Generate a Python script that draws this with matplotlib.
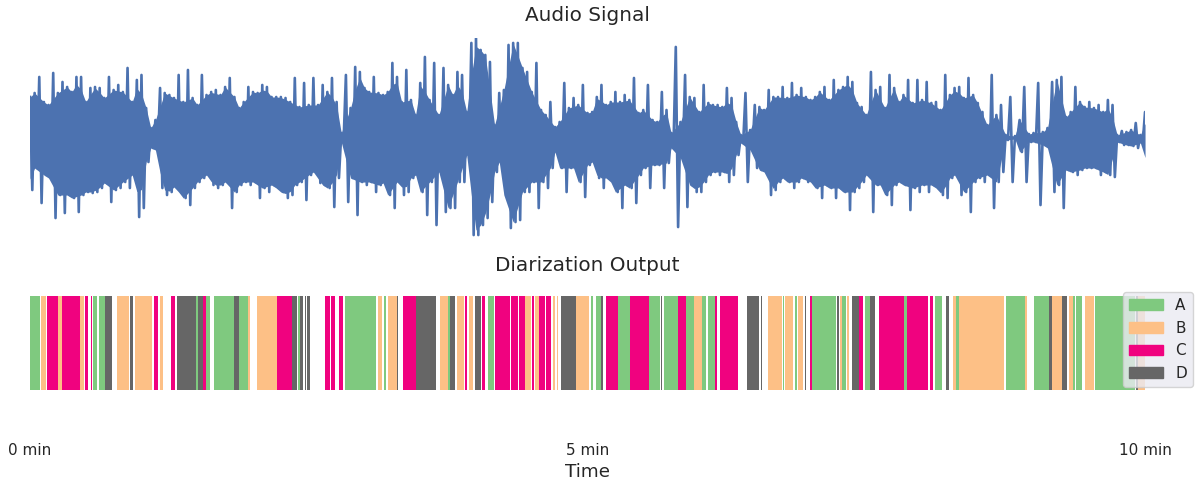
import numpy as np
import matplotlib.pyplot as plt
from matplotlib.patches import Patch

# audio envelope, one column every 2.5 s (upper / lower peak, arbitrary units)
wave_step = 2.5
wave_hi = [41, 45, 61, 36, 33, 65, 45, 56, 51, 46,
           61, 61, 36, 50, 51, 50, 40, 61, 48, 53,
           46, 70, 36, 58, 63, 30, 10, 18, 50, 45,
           43, 40, 63, 36, 68, 40, 33, 63, 43, 46,
           48, 43, 51, 60, 41, 30, 36, 51, 46, 45,
           53, 51, 41, 41, 41, 40, 36, 60, 31, 55,
           33, 60, 33, 53, 46, 60, 36, 5, 63, 30, 71,
           66, 50, 46, 61, 45, 43, 46, 75, 61, 36,
           68, 38, 23, 55, 81, 38, 75, 23, 70, 53,
           43, 66, 63, 26, 95, 100, 88, 83, 76, 13,
           45, 48, 93, 95, 95, 70, 66, 46, 75, 28,
           23, 36, 11, 16, 55, 30, 40, 33, 53, 25,
           26, 41, 53, 33, 36, 46, 36, 43, 38, 60, 25, 28,
           53, 18, 16, 46, 28, 5, 91, 16, 63, 41,
           40, 26, 53, 35, 33, 33, 31, 50, 40, 16,
           3, 45, 8, 33, 31, 28, 48, 41, 41, 51,
           40, 55, 43, 50, 41, 38, 41, 46, 51, 38,
           58, 48, 51, 61, 56, 35, 31, 23, 66, 48,
           51, 30, 63, 50, 36, 43, 58, 35, 58, 38, 56, 35, 36,
           28, 63, 43, 50, 51, 40, 60, 43, 35, 26,
           13, 63, 23, 33, 3, 41, 2, 18, 51, 4,
           5, 55, 6, 10, 56, 58, 61, 21, 26, 51,
           36, 31, 36, 30, 33, 26, 38, 33, 3, 7,
           6, 8, 15, 3, 26]
wave_lo = [-52, -30, -65, -37, -40, -80, -57, -75, -57, -60,
           -74, -57, -54, -55, -54, -50, -45, -64, -52, -50,
           -44, -50, -37, -79, -70, -24, -10, -12, -50, -57,
           -54, -49, -54, -60, -67, -50, -44, -40, -37, -47,
           -50, -47, -44, -70, -54, -47, -44, -47, -44, -60,
           -50, -54, -47, -50, -54, -60, -57, -47, -44, -62,
           -37, -34, -45, -47, -50, -69, -40, -4, -64, -40, -77,
           -44, -47, -44, -54, -47, -45, -57, -70, -44, -57,
           -54, -40, -37, -54, -77, -44, -87, -34, -74, -70,
           -70, -44, -44, -17, -97, -97, -87, -80, -64, -34,
           -24, -57, -90, -84, -82, -54, -54, -44, -70, -44,
           -50, -30, -14, -30, -54, -30, -30, -44, -59, -27,
           -24, -40, -50, -40, -44, -54, -70, -47, -50, -65, -37, -30,
           -50, -27, -27, -50, -25, -10, -89, -20, -69, -47,
           -54, -54, -44, -37, -34, -37, -34, -44, -37, -17,
           -5, -44, -12, -30, -32, -34, -57, -52, -44, -40,
           -44, -50, -44, -40, -44, -44, -50, -60, -47, -50,
           -60, -50, -54, -72, -54, -50, -44, -37, -74, -47,
           -47, -57, -67, -47, -44, -47, -72, -50, -54, -47, -54, -47, -50,
           -57, -60, -40, -37, -57, -54, -74, -44, -40, -44,
           -37, -70, -44, -34, -2, -44, -1, -14, -44, -4,
           -4, -67, -7, -10, -54, -47, -70, -32, -34, -37,
           -32, -30, -30, -30, -37, -34, -37, -39, -4, -7,
           -7, -8, -10, -5, -34]

# diarization segments (seconds)
seg_start = [0, 5.9, 9.1, 15.1, 17.2, 26.9, 29.6, 32.8, 33.9, 37.1, 40.4, 46.8, 53.8, 56.5, 66.7,
             69.9, 75.9, 79.1, 89.3, 90.4, 93.1, 94.7, 99.0, 109.8, 112.4, 117.3, 122.1, 132.9,
             141.0, 144.2, 145.3, 148.0, 149.0, 158.7, 161.9, 166.2, 169.5, 187.2, 190.5, 192.6,
             197.4, 200.7, 207.7, 220.6, 224.9, 226.0, 229.7, 234.0, 236.2, 239.4, 243.2, 246.4,
             250.2, 258.8, 263.1, 266.3, 270.1, 271.7, 273.8, 277.6, 281.4, 283.5, 285.7, 293.7,
             301.8, 304.5, 307.2, 309.9, 316.3, 322.8, 333.0, 339.5, 341.1, 348.6, 352.9, 357.2,
             361.5, 364.8, 368.5, 371.2, 385.7, 393.3, 397.0, 405.1, 406.2, 411.6, 413.2, 417.0,
             419.6, 420.7, 434.2, 435.8, 436.9, 439.5, 442.2, 446.0, 449.2, 451.9, 456.8, 470.2,
             471.8, 484.2, 486.9, 492.8, 496.6, 498.2, 499.8, 525.1, 535.3, 540.2, 548.2, 549.8,
             555.2, 559.0, 561.1, 562.7, 567.6, 573.0, 595.0, 596.1]
seg_end = [5.4, 8.6, 15.1, 17.2, 26.9, 29.1, 31.2, 33.4, 36.0, 40.4, 44.1, 53.3, 55.4, 65.6, 68.9,
           71.6, 78.0, 89.3, 90.4, 93.1, 94.7, 96.8, 109.8, 112.4, 117.3, 118.4, 132.9, 141.0,
           143.6, 145.3, 146.9, 148.5, 150.6, 161.4, 164.1, 168.4, 186.1, 189.4, 191.5, 197.4,
           198.0, 207.7, 218.4, 224.9, 226.0, 228.7, 233.5, 235.1, 238.3, 242.6, 244.8, 249.6,
           258.2, 262.5, 266.3, 269.5, 271.2, 273.8, 277.1, 280.3, 282.5, 284.1, 293.7, 300.7,
           302.9, 307.2, 308.3, 316.3, 322.8, 333.0, 338.9, 340.0, 348.6, 352.9, 357.2, 361.5,
           363.7, 368.5, 369.6, 380.9, 392.2, 393.8, 404.6, 405.7, 410.5, 412.6, 415.9, 417.5,
           420.7, 433.6, 435.2, 436.9, 439.0, 440.6, 446.0, 448.2, 451.9, 454.6, 470.2, 471.8,
           483.1, 485.8, 490.7, 494.4, 498.2, 499.8, 524.0, 535.3, 536.4, 548.2, 549.8, 555.2,
           557.9, 561.1, 562.2, 566.0, 572.4, 594.5, 596.1, 599.9]
seg_spk = ['A', 'B', 'C', 'B', 'C', 'B', 'C', 'C', 'A', 'A', 'D', 'B', 'D', 'B', 'C',
           'B', 'C', 'D', 'A', 'D', 'C', 'A', 'A', 'D', 'A', 'B', 'B', 'C',
           'D', 'A', 'D', 'D', 'D', 'C', 'C', 'C', 'A', 'B', 'A', 'B',
           'D', 'C', 'D', 'B', 'A', 'D', 'B', 'C', 'B', 'D', 'C', 'A',
           'C', 'C', 'C', 'B', 'C', 'B', 'C', 'C', 'B', 'B', 'D', 'B',
           'A', 'A', 'D', 'C', 'A', 'C', 'A', 'D', 'A', 'C', 'A', 'B',
           'A', 'A', 'C', 'C', 'D', 'D', 'B', 'A', 'B', 'A', 'B', 'D',
           'C', 'A', 'D', 'B', 'A', 'B', 'D', 'C', 'A', 'D', 'C', 'A',
           'C', 'C', 'A', 'D', 'B', 'A', 'B', 'A', 'B', 'A', 'D', 'B',
           'D', 'B', 'A', 'A', 'B', 'A', 'D', 'B']

speakers = ['A', 'B', 'C', 'D']
spk_colors = ['#7fc97f', '#fdc086', '#f0027f', '#666666']

txt = '#262626'
blue = '#4c72b0'
fig = plt.figure(figsize=(11.99, 4.8), dpi=100)
ax1 = fig.add_axes([0.025, 0.504, 0.930, 0.417])
ax2 = fig.add_axes([0.025, 0.1875, 0.930, 0.1958])

# waveform: solid body between neighbouring peaks, zigzag line for the spikes
hi = np.array(wave_hi, dtype=float)
lo = np.array(wave_lo, dtype=float)
t = np.arange(len(hi)) * wave_step
pad_hi = np.concatenate([[hi[0]], hi, [hi[-1]]])
pad_lo = np.concatenate([[lo[0]], lo, [lo[-1]]])
body_hi = np.minimum(pad_hi[1:-1], 0.5 * (pad_hi[:-2] + pad_hi[2:]))
body_lo = np.maximum(pad_lo[1:-1], 0.5 * (pad_lo[:-2] + pad_lo[2:]))
ax1.fill_between(t, body_lo, body_hi, color=blue, lw=0)

wx = np.empty(2 * len(t))
wy = np.empty(2 * len(t))
wx[0::2] = t
wx[1::2] = t + wave_step / 2
wy[0::2] = hi
wy[1::2] = lo
ax1.plot(wx, wy, color=blue, lw=1.9)
ax1.set_xlim(0, 600)
ax1.set_ylim(-100, 100)
ax1.axis('off')
ax1.set_title('Audio Signal', fontsize=14.4, color=txt, pad=12)

cmap = dict(zip(speakers, spk_colors))
for s, e, k in zip(seg_start, seg_end, seg_spk):
    ax2.bar(s, 1, width=e - s, align='edge', color=cmap[k], lw=0)
ax2.set_xlim(0, 600)
ax2.set_ylim(0, 1)
ax2.set_yticks([])
ax2.set_xticks([0, 300, 600], ['0 min', '5 min', '10 min'])
ax2.tick_params(axis='x', length=0, pad=38, labelsize=11, colors=txt)
for sp in ax2.spines.values():
    sp.set_visible(False)
ax2.set_xlabel('Time', fontsize=13.2, color=txt, labelpad=4)
ax2.set_title('Diarization Output', fontsize=14.4, color=txt, pad=18)

handles = [Patch(color=c, label=k) for k, c in zip(speakers, spk_colors)]
leg = ax2.legend(handles=handles, loc='upper right', bbox_to_anchor=(0.995, 0.392),
                 bbox_transform=fig.transFigure, borderaxespad=0, fontsize=11,
                 framealpha=0.8, facecolor='#eaeaf2', edgecolor='#cccccc',
                 handlelength=2.2)
for tx in leg.get_texts():
    tx.set_color(txt)

fig.savefig('out.png', dpi=100)
